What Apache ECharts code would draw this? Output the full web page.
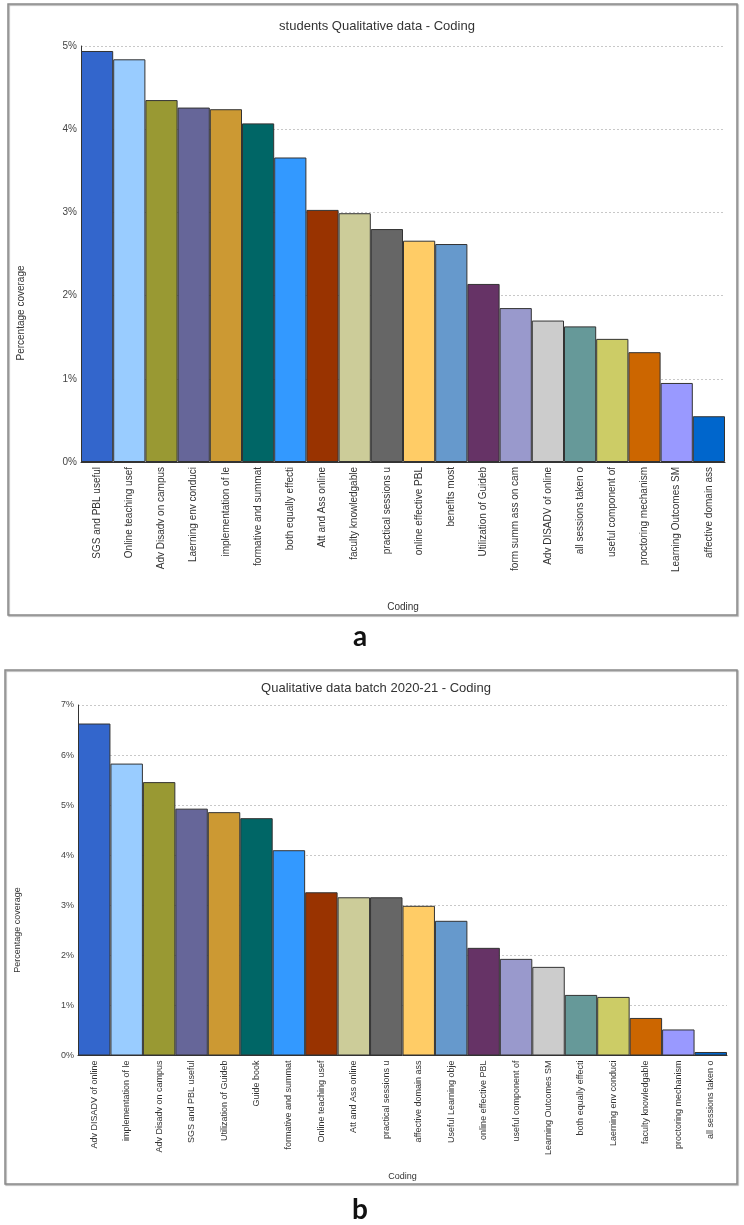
<!DOCTYPE html>
<html>
<head>
<meta charset="utf-8">
<script src="https://cdn.jsdelivr.net/npm/echarts@6/dist/echarts.min.js"></script>
<style>
html,body{margin:0;padding:0;background:#fff;}
#main{width:744px;height:1225px;}
</style>
</head>
<body>
<div id="main"></div>
<script>
// ---- Data ----
var titleA = "students Qualitative data - Coding";
var titleB = "Qualitative data batch 2020-21 - Coding";
var yTitle = "Percentage coverage";
var xTitle = "Coding";

var catsA = ["SGS and PBL useful","Online teaching usef","Adv Disadv on campus","Laerning env conduci","implementation of le","formative and summat","both equally effecti","Att and Ass online","faculty knowledgable","practical sessions u","online effective PBL","benefits most","Utilization of Guideb","form summ ass on cam","Adv DISADV of online","all sessions taken o","useful component of","proctoring mechanism","Learning Outcomes SM","affective domain ass"];
var valsA = [4.94,4.84,4.35,4.26,4.24,4.07,3.66,3.03,2.99,2.80,2.66,2.62,2.14,1.85,1.70,1.63,1.48,1.32,0.95,0.55];

var catsB = ["Adv DISADV of online","implementation of le","Adv Disadv on campus","SGS and PBL useful","Utilization of Guideb","Guide book","formative and summat","Online teaching usef","Att and Ass online","practical sessions u","affective domain ass","Useful Learning obje","online effective PBL","useful component of","Learning Outcomes SM","both equally effecti","Laerning env conduci","faculty knowledgable","proctoring mechanism","all sessions taken o"];
var valsB = [6.63,5.83,5.46,4.93,4.86,4.74,4.10,3.26,3.16,3.16,2.99,2.69,2.15,1.93,1.77,1.21,1.17,0.75,0.52,0.07];

var palette = ["#3366CC","#99CCFF","#999933","#666699","#CC9933","#006666","#3399FF","#993300","#CCCC99","#666666","#FFCC66","#6699CC","#663366","#9999CC","#CCCCCC","#669999","#CCCC66","#CC6600","#9999FF","#0066CC"];

var FONT = "Liberation Sans, Arial, sans-serif";

function barData(vals){
  return vals.map(function(v,i){
    return {value:v, itemStyle:{color:palette[i % palette.length]}};
  });
}

var chart = echarts.init(document.getElementById('main'), null, {renderer:'canvas'});

function yAxisCfg(gi, max, fs){
  return {
    type:'value', gridIndex:gi, min:0, max:max, interval:1,
    axisLine:{show:true, lineStyle:{color:'#333', width:1}},
    axisTick:{show:false},
    axisLabel:{formatter:'{value}%', fontSize:fs, color:'#444', margin:4, fontFamily:FONT},
    splitLine:{show:true, lineStyle:{color:'#c8c8c8', type:[2,2], width:1}}
  };
}
function xAxisCfg(gi, cats, fs, gap){
  return {
    type:'category', gridIndex:gi, data:cats,
    axisLine:{show:true, onZero:true, lineStyle:{color:'#333', width:1}},
    axisTick:{show:false},
    axisLabel:{rotate:90, interval:0, fontSize:fs, color:'#333', margin:5, fontFamily:FONT},
    name:xTitle, nameLocation:'middle', nameGap:gap,
    nameTextStyle:{fontSize:fs, color:'#333', fontFamily:FONT}
  };
}

var option = {
  animation:false,
  backgroundColor:'#fff',
  title:[
    {text:titleA, left:372, top:15, textAlign:'center',
     textStyle:{fontSize:13, fontWeight:'normal', color:'#333', fontFamily:FONT}},
    {text:titleB, left:371, top:677, textAlign:'center',
     textStyle:{fontSize:13, fontWeight:'normal', color:'#333', fontFamily:FONT}}
  ],
  grid:[
    {left:81, right:19, top:46, bottom:763},
    {left:78, right:17, top:705, bottom:169.5}
  ],
  xAxis:[ xAxisCfg(0, catsA, 10, 140), xAxisCfg(1, catsB, 9, 117) ],
  yAxis:[ yAxisCfg(0, 5, 10), yAxisCfg(1, 7, 9) ],
  series:[
    {type:'bar', xAxisIndex:0, yAxisIndex:0, data:barData(valsA),
     barCategoryGap:'0%', itemStyle:{borderColor:'#333', borderWidth:1}},
    {type:'bar', xAxisIndex:1, yAxisIndex:1, data:barData(valsB),
     barCategoryGap:'0%', itemStyle:{borderColor:'#333', borderWidth:1}}
  ],
  graphic:[
    {type:'rect', shape:{x:8, y:4, width:729, height:611}, z:-1,
     style:{fill:'none', stroke:'#8a8a8a', lineWidth:1.5, shadowColor:'rgba(0,0,0,0.35)', shadowOffsetX:1, shadowOffsetY:1, shadowBlur:1}},
    {type:'rect', shape:{x:5, y:670, width:732, height:514}, z:-1,
     style:{fill:'none', stroke:'#8a8a8a', lineWidth:1.5, shadowColor:'rgba(0,0,0,0.35)', shadowOffsetX:1, shadowOffsetY:1, shadowBlur:1}},
    {type:'text', x:21, y:313, rotation:Math.PI/2,
     style:{text:yTitle, fontSize:10, fill:'#333', fontFamily:FONT, align:'center', verticalAlign:'middle'}},
    {type:'text', x:18, y:930, rotation:Math.PI/2,
     style:{text:yTitle, fontSize:9, fill:'#333', fontFamily:FONT, align:'center', verticalAlign:'middle'}},
    {type:'text', x:360, y:637,
     style:{text:'a', fontSize:28, fontWeight:'bold', fill:'#111', fontFamily:'Lato, Open Sans, sans-serif', align:'center', verticalAlign:'middle'}},
    {type:'text', x:360, y:1210,
     style:{text:'b', fontSize:28, fontWeight:'bold', fill:'#111', fontFamily:'Lato, Open Sans, sans-serif', align:'center', verticalAlign:'middle'}}
  ]
};
chart.setOption(option);
</script>
</body>
</html>
